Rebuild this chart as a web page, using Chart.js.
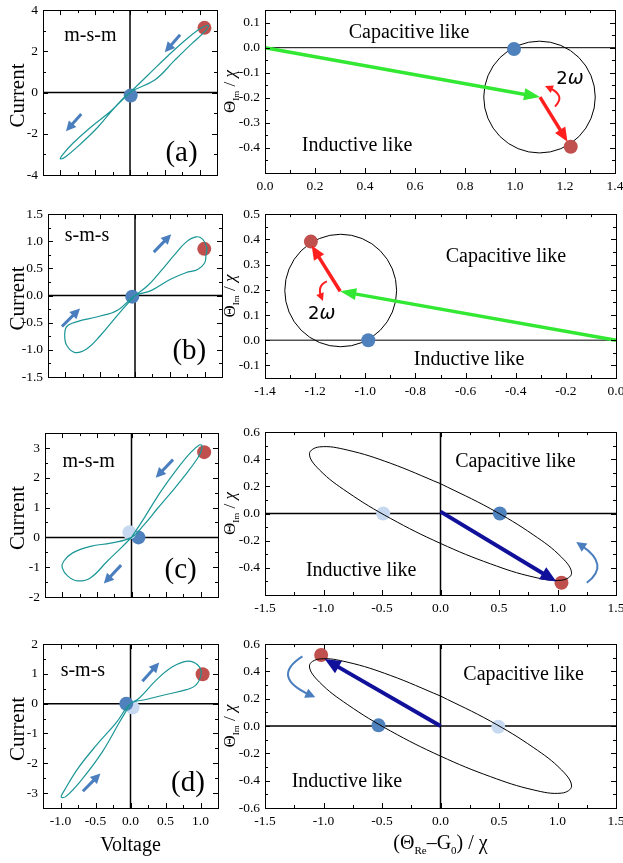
<!DOCTYPE html>
<html>
<head>
<meta charset="utf-8">
<script src="https://cdn.jsdelivr.net/npm/chart.js@4.4.0/dist/chart.umd.min.js"></script>
<style>
  html, body { margin: 0; padding: 0; background: #fff; width: 623px; height: 863px; overflow: hidden; }
  canvas { position: absolute; }
</style>
</head>
<body>
<canvas id="la"></canvas>
<canvas id="lb"></canvas>
<canvas id="lc"></canvas>
<canvas id="ld"></canvas>
<canvas id="ra"></canvas>
<canvas id="rb"></canvas>
<canvas id="rc"></canvas>
<canvas id="rd"></canvas>
<script>
// ---- data ----
// tick values
const voltTicks = [-1, -0.5, 0, 0.5, 1];
const curTicksA = [-4, -2, 0, 2, 4];
const curTicksB = [-1.5, -1, -0.5, 0, 0.5, 1, 1.5];
const curTicksC = [-2, -1, 0, 1, 2, 3];
const curTicksD = [-3, -2, -1, 0, 1, 2];
const reTicksA = [0, 0.2, 0.4, 0.6, 0.8, 1.0, 1.2, 1.4];
const imTicksA = [-0.5, -0.4, -0.3, -0.2, -0.1, 0, 0.1];
const reTicksB = [-1.4, -1.2, -1.0, -0.8, -0.6, -0.4, -0.2, 0];
const imTicksB = [-0.1, 0, 0.1, 0.2, 0.3, 0.4, 0.5];
const reTicksCD = [-1.5, -1, -0.5, 0, 0.5, 1, 1.5];
const imTicksCD = [-0.6, -0.4, -0.2, 0, 0.2, 0.4, 0.6];

// current-voltage loops (x = voltage, y = current)
const loopA = [[0,0],[0.26,0.85],[0.55,1.8],[0.84,2.67],[1.03,3.14],[1.125,3.25],[1.08,2.98],[0.88,2.35],[0.64,1.56],[0.36,0.62],[0,0],
  [-0.27,-0.88],[-0.56,-1.67],[-0.82,-2.46],[-0.97,-3.02],[-1.0,-3.22],[-0.92,-3.1],[-0.7,-2.46],[-0.46,-1.67],[-0.22,-0.73],[0,0]];
const loopB = [[0,0],[0.18,0.18],[0.37,0.45],[0.56,0.74],[0.73,0.98],[0.875,1.08],[0.97,1.04],[1.03,0.89],[1.02,0.74],[1.0,0.6],[0.9,0.48],[0.73,0.42],[0.51,0.3],[0.23,0.09],[0,0],
  [-0.25,-0.27],[-0.54,-0.39],[-0.83,-0.48],[-0.98,-0.57],[-1.01,-0.74],[-0.98,-0.92],[-0.86,-1.05],[-0.69,-0.98],[-0.5,-0.74],[-0.25,-0.36],[0,0]];
const loopC = [[0,0],[0.18,0.64],[0.42,1.53],[0.66,2.3],[0.86,2.86],[0.98,3.1],[1.02,3.08],[1.0,2.86],[0.95,2.64],[0.81,2.19],[0.62,1.64],[0.375,0.97],[0.18,0.42],[0,0],
  [-0.3,-0.19],[-0.59,-0.3],[-0.85,-0.52],[-0.98,-0.8],[-1.0,-1.02],[-0.92,-1.3],[-0.78,-1.46],[-0.59,-1.35],[-0.35,-0.8],[-0.15,-0.35],[0,0]];
const loopD = [[0,0],[0.13,0.2],[0.37,0.8],[0.6,1.24],[0.82,1.43],[0.96,1.3],[1.01,1.03],[0.94,0.64],[0.8,0.47],[0.51,0.31],[0.22,0.14],[0,0],
  [-0.2,-0.63],[-0.49,-1.4],[-0.75,-2.17],[-0.94,-2.89],[-0.99,-3.13],[-0.92,-3.11],[-0.68,-2.5],[-0.4,-1.61],[-0.16,-0.63],[0,0]];

// ellipse traced in panels (c) and (d)
const ellipseCD = [[0,0.22],[-0.429,0.371],[-0.792,0.467],[-1.035,0.491],[-1.12,0.44],[-1.035,0.322],[-0.792,0.156],[-0.429,-0.035],
  [0,-0.22],[0.429,-0.371],[0.792,-0.467],[1.035,-0.491],[1.12,-0.44],[1.035,-0.322],[0.792,-0.156],[0.429,0.035],[0,0.22]];

// circles in panels (a) and (b): centre and radius
const circleA = { c: [1.098, -0.197], r: 0.223 };
const circleB = { c: [-1.098, 0.197], r: 0.223 };

// marker positions
const redA = [[1.07, 3.14]],  blueA = [[0.01, -0.14]];
const redB = [[0.995, 0.86]], blueB = [[-0.04, -0.02]];
const redC = [[1.05, 2.86]],  blueC = [[0.1, 0]],   lightC = [[-0.03, 0.17]];
const redD = [[1.03, 0.99]],  blueD = [[-0.06, 0]], lightD = [[0.03, -0.13]];
const phRedA = [[1.223, -0.395]], phBlueA = [[0.996, -0.005]];
const phRedB = [[-1.217, 0.391]], phBlueB = [[-0.988, 0]];
const phRedC = [[1.034, -0.51]], phBlueC = [[0.507, 0]], phLightC = [[-0.49, 0]];
const phRedD = [[-1.02, 0.52]], phBlueD = [[-0.53, 0.005]], phLightD = [[0.494, -0.005]];

// arrows (start, end) in data units
const dirA = [[[0.72, 2.8], [0.5, 1.96]], [[-0.7, -1.04], [-0.92, -1.88]]];
const dirB = [[[0.27, 0.8], [0.52, 1.13]], [[-1.05, -0.57], [-0.79, -0.24]]];
const dirC = [[[0.6, 2.61], [0.35, 2.0]], [[-0.15, -0.93], [-0.4, -1.55]]];
const dirD = [[[0.17, 0.75], [0.41, 1.38]], [[-0.68, -2.94], [-0.43, -2.34]]];
const greenA = [[0, 0], [1.1, -0.197]], redVecA = [[1.1, -0.197], [1.21, -0.375]];
const greenB = [[0, 0], [-1.1, 0.194]], redVecB = [[-1.1, 0.194], [-1.214, 0.375]];
const navyC = [[0, 0.014], [0.99, -0.5]];
const navyD = [[0, 0], [-0.99, 0.49]];
// curved arrows: start, middle, end
const spinA = [[1.16, -0.235], [1.172, -0.192], [1.12, -0.153]];
const spinB = [[-1.153, 0.233], [-1.177, 0.205], [-1.169, 0.155]];
const spinC = [[1.25, -0.51], [1.33, -0.37], [1.16, -0.21]];
const spinD = [[-1.18, 0.51], [-1.29, 0.36], [-1.07, 0.21]];

// ---- drawing ----
const SERIF = '"Liberation Serif", "Times New Roman", serif';
const RED = '#c0504d', BLUE = '#4f81bd', LIGHT = '#c6d9f0', TEAL = '#1b9696', ARROW_BLUE = '#4a7ebf';
const PAD_T = 10, PAD_R = 14;

const pts = arr => arr.map(([x, y]) => ({ x, y }));
const fontOf = p => (p.italic ? 'italic ' : '') + p.size + 'px ' + (p.family || SERIF);

function drawParts(ctx, parts, x, y, rot) {
  ctx.save();
  ctx.translate(x, y);
  if (rot) ctx.rotate(-Math.PI / 2);
  let w = 0;
  parts.forEach(p => { ctx.font = fontOf(p); w += ctx.measureText(p.t).width; });
  let cx = -w / 2;
  ctx.textAlign = 'left';
  ctx.textBaseline = 'alphabetic';
  ctx.fillStyle = '#000';
  parts.forEach(p => {
    ctx.font = fontOf(p);
    ctx.fillText(p.t, cx, p.dy || 0);
    cx += ctx.measureText(p.t).width;
  });
  ctx.restore();
}

function head(ctx, tip, ux, uy, len, half, color) {
  const bx = tip[0] - ux * len, by = tip[1] - uy * len;
  ctx.fillStyle = color;
  ctx.beginPath();
  ctx.moveTo(tip[0], tip[1]);
  ctx.lineTo(bx - uy * half, by + ux * half);
  ctx.lineTo(bx + uy * half, by - ux * half);
  ctx.closePath();
  ctx.fill();
}

function minors(majors, min, max) {
  const step = majors[1] - majors[0], out = [];
  for (let v = majors[0] - step / 2; v > min + 1e-9; v -= step) out.push(v);
  for (let i = 0; i < majors.length - 1; i++) out.push((majors[i] + majors[i + 1]) / 2);
  for (let v = majors[majors.length - 1] + step / 2; v < max - 1e-9; v += step) out.push(v);
  return out;
}

const deco = {
  id: 'deco',
  beforeDatasetsDraw(chart, args, o) {
    const { ctx, chartArea: a, scales: { x, y } } = chart;
    ctx.save();
    ctx.strokeStyle = '#000';
    ctx.lineWidth = o.zeroWidth || 1.5;
    if (o.zeroX) {
      const px = x.getPixelForValue(0);
      ctx.beginPath(); ctx.moveTo(px, a.top); ctx.lineTo(px, a.bottom); ctx.stroke();
    }
    if (o.zeroY) {
      const py = y.getPixelForValue(0);
      ctx.beginPath(); ctx.moveTo(a.left, py); ctx.lineTo(a.right, py); ctx.stroke();
    }
    if (o.circle) {
      const c = o.circle;
      const cx = x.getPixelForValue(c.c[0]), cy = y.getPixelForValue(c.c[1]);
      const rx = Math.abs(x.getPixelForValue(c.c[0] + c.r) - cx);
      const ry = Math.abs(y.getPixelForValue(c.c[1] + c.r) - cy);
      ctx.lineWidth = 1;
      ctx.beginPath(); ctx.ellipse(cx, cy, rx, ry, 0, 0, Math.PI * 2); ctx.stroke();
    }
    ctx.restore();
  },
  afterDatasetsDraw(chart, args, o) {
    const { ctx, chartArea: a, scales: { x, y } } = chart;
    const P = v => [x.getPixelForValue(v[0]), y.getPixelForValue(v[1])];
    ctx.save();

    // straight arrows
    (o.arrows || []).forEach(ar => {
      const p0 = P(ar.seg[0]), p1 = P(ar.seg[1]);
      const dx = p1[0] - p0[0], dy = p1[1] - p0[1], L = Math.hypot(dx, dy);
      const ux = dx / L, uy = dy / L;
      ctx.strokeStyle = ar.color; ctx.lineWidth = ar.width; ctx.lineCap = 'butt';
      ctx.beginPath(); ctx.moveTo(p0[0], p0[1]);
      ctx.lineTo(p1[0] - ux * (ar.head - 1), p1[1] - uy * (ar.head - 1)); ctx.stroke();
      head(ctx, p1, ux, uy, ar.head, ar.half, ar.color);
    });

    // curved arrows through three points
    (o.curves || []).forEach(cv => {
      const s = P(cv.pts[0]), m = P(cv.pts[1]), e = P(cv.pts[2]);
      const c = [2 * m[0] - (s[0] + e[0]) / 2, 2 * m[1] - (s[1] + e[1]) / 2];
      const dx = e[0] - c[0], dy = e[1] - c[1], L = Math.hypot(dx, dy);
      const ux = dx / L, uy = dy / L;
      ctx.strokeStyle = cv.color; ctx.lineWidth = cv.width;
      ctx.beginPath(); ctx.moveTo(s[0], s[1]);
      ctx.quadraticCurveTo(c[0], c[1], e[0] - ux * cv.head * 0.6, e[1] - uy * cv.head * 0.6);
      ctx.stroke();
      head(ctx, e, ux, uy, cv.head, cv.half, cv.color);
    });

    // frame
    ctx.strokeStyle = '#000'; ctx.lineWidth = 1;
    ctx.strokeRect(Math.round(a.left) + 0.5, Math.round(a.top) + 0.5, Math.round(a.right - a.left), Math.round(a.bottom - a.top));

    // inward ticks on all four sides
    const xMaj = x.ticks.map(t => t.value), yMaj = y.ticks.map(t => t.value);
    const tickX = (vals, len) => vals.forEach(v => {
      const px = Math.round(x.getPixelForValue(v)) + 0.5;
      ctx.beginPath();
      ctx.moveTo(px, a.bottom); ctx.lineTo(px, a.bottom - len);
      ctx.moveTo(px, a.top); ctx.lineTo(px, a.top + len);
      ctx.stroke();
    });
    const tickY = (vals, len) => vals.forEach(v => {
      const py = Math.round(y.getPixelForValue(v)) + 0.5;
      ctx.beginPath();
      ctx.moveTo(a.left, py); ctx.lineTo(a.left + len, py);
      ctx.moveTo(a.right, py); ctx.lineTo(a.right - len, py);
      ctx.stroke();
    });
    tickX(xMaj, 5); tickX(minors(xMaj, x.min, x.max), 3);
    tickY(yMaj, 5); tickY(minors(yMaj, y.min, y.max), 3);

    // texts at data positions
    (o.texts || []).forEach(t => {
      const p = P(t.at);
      drawParts(ctx, t.parts, p[0], p[1], false);
    });

    // axis titles, positioned in page pixels
    const cl = chart.canvas.offsetLeft, ct = chart.canvas.offsetTop;
    if (o.yTitle) drawParts(ctx, o.yTitle.parts, o.yTitle.px - cl, (a.top + a.bottom) / 2 + (o.yTitle.dy || 0), true);
    if (o.xTitle) drawParts(ctx, o.xTitle.parts, (a.left + a.right) / 2, o.xTitle.py - ct, false);
    ctx.restore();
  }
};

function fmt(v, d) {
  if (Math.abs(v) < 1e-9) v = 0;
  return v.toFixed(d);
}

function panel(id, box, o) {
  const cv = document.getElementById(id);
  const left = o.canvasLeft;
  cv.style.left = left + 'px';
  cv.style.top = (box.T - PAD_T) + 'px';
  cv.width = box.R - left + PAD_R;
  cv.height = box.B - box.T + PAD_T + o.xH;
  const yW = box.L - left;
  const tickFont = { family: SERIF, size: 13.5 };
  new Chart(cv, {
    type: 'scatter',
    data: { datasets: o.datasets },
    options: {
      responsive: false,
      animation: false,
      events: [],
      layout: { padding: { top: PAD_T, right: PAD_R, left: 0, bottom: 0 } },
      plugins: { legend: { display: false }, tooltip: { enabled: false }, deco: o.deco },
      scales: {
        x: {
          type: 'linear', min: o.xr[0], max: o.xr[1],
          grid: { display: false, drawTicks: false }, border: { display: false },
          afterBuildTicks: s => { s.ticks = o.xt.map(v => ({ value: v })); },
          ticks: {
            autoSkip: false, maxRotation: 0, padding: 5, color: '#000', font: tickFont,
            callback: v => o.xLabels ? fmt(v, o.xd) : ''
          },
          afterFit: s => { s.height = o.xH; }
        },
        y: {
          type: 'linear', min: o.yr[0], max: o.yr[1],
          grid: { display: false, drawTicks: false }, border: { display: false },
          afterBuildTicks: s => { s.ticks = o.yt.map(v => ({ value: v })); },
          ticks: {
            autoSkip: false, padding: 5, color: '#000', font: tickFont,
            callback: v => (o.yHide || []).some(h => Math.abs(h - v) < 1e-9) ? '' : fmt(v, o.yd)
          },
          afterFit: s => { s.width = yW; }
        }
      }
    },
    plugins: [deco]
  });
}

const loopSet = arr => ({ data: pts(arr), showLine: true, borderColor: TEAL, borderWidth: 1.2, pointRadius: 0, tension: 0.4, fill: false });
const dotSet = (arr, col) => ({ data: pts(arr), showLine: false, pointRadius: 7, pointHoverRadius: 7, backgroundColor: col, borderWidth: 0 });
const ellSet = arr => ({ data: pts(arr), showLine: true, borderColor: '#000', borderWidth: 1, pointRadius: 0, tension: 0.4, fill: false });
const dirArrows = list => list.map(seg => ({ seg, color: ARROW_BLUE, width: 3, head: 10, half: 5 }));
const txt = (at, s, size) => ({ at, parts: [{ t: s, size }] });

const curTitle = { px: 24, dy: 3, parts: [{ t: 'Current', size: 21 }] };
const imTitle = { px: 235, parts: [{ t: 'Θ', size: 17 }, { t: 'Im', size: 9, dy: 4 }, { t: ' / ', size: 17 }, { t: 'χ', size: 17, italic: true }] };

// ---- left column: current vs voltage ----
panel('la', { L: 43, T: 7, R: 217, B: 175 }, {
  canvasLeft: 0, xH: 20, xr: [-1.25, 1.25], xt: voltTicks, xd: 1, xLabels: false,
  yr: [-4, 4], yt: curTicksA, yd: 0,
  datasets: [loopSet(loopA), dotSet(blueA, BLUE), dotSet(redA, RED)],
  deco: { zeroX: true, zeroY: true, arrows: dirArrows(dirA), yTitle: curTitle,
    texts: [txt([-0.57, 2.51], 'm-s-m', 20), txt([0.74, -3.33], '(a)', 29)] }
});
panel('lb', { L: 48, T: 211, R: 222, B: 377 }, {
  canvasLeft: 0, xH: 20, xr: [-1.25, 1.25], xt: voltTicks, xd: 1, xLabels: false,
  yr: [-1.5, 1.5], yt: curTicksB, yd: 1,
  datasets: [loopSet(loopB), dotSet(blueB, BLUE), dotSet(redB, RED)],
  deco: { zeroX: true, zeroY: true, arrows: dirArrows(dirB), yTitle: curTitle,
    texts: [txt([-0.69, 1.01], 's-m-s', 20), txt([0.78, -1.16], '(b)', 29)] }
});
panel('lc', { L: 45, T: 430, R: 218, B: 597 }, {
  canvasLeft: 0, xH: 20, xr: [-1.25, 1.25], xt: voltTicks, xd: 1, xLabels: false,
  yr: [-2, 3.5], yt: curTicksC, yd: 0,
  datasets: [loopSet(loopC), dotSet(lightC, LIGHT), dotSet(blueC, BLUE), dotSet(redC, RED)],
  deco: { zeroX: true, zeroY: true, arrows: dirArrows(dirC), yTitle: curTitle,
    texts: [txt([-0.62, 2.36], 'm-s-m', 20), txt([0.71, -1.35], '(c)', 29)] }
});
panel('ld', { L: 43, T: 641, R: 218, B: 808 }, {
  canvasLeft: 0, xH: 60, xr: [-1.25, 1.25], xt: voltTicks, xd: 1, xLabels: true,
  yr: [-3.5, 2], yt: curTicksD, yd: 0,
  datasets: [loopSet(loopD), dotSet(blueD, BLUE), dotSet(lightD, LIGHT), dotSet(redD, RED)],
  deco: { zeroX: true, zeroY: true, arrows: dirArrows(dirD), yTitle: curTitle,
    xTitle: { py: 851, parts: [{ t: 'Voltage', size: 20 }] },
    texts: [txt([-0.68, 0.92], 's-m-s', 20), txt([0.82, -2.94], '(d)', 29)] }
});

// ---- right column: phasor plane ----
const w2 = at => ({ at, parts: [{ t: '2', size: 18, family: '"DejaVu Sans", sans-serif' }, { t: 'ω', size: 19, italic: true, family: '"DejaVu Sans", sans-serif' }] });

panel('ra', { L: 265, T: 7, R: 615, B: 173 }, {
  canvasLeft: 218, xH: 20, xr: [0, 1.4], xt: reTicksA, xd: 1, xLabels: true,
  yr: [-0.5, 0.15], yt: imTicksA, yd: 1, yHide: [-0.5],
  datasets: [dotSet(phBlueA, BLUE), dotSet(phRedA, RED)],
  deco: { zeroY: true, zeroWidth: 1, circle: circleA, yTitle: imTitle,
    arrows: [{ seg: greenA, color: '#33e833', width: 3.5, head: 16, half: 6 }, { seg: redVecA, color: '#ff1f1f', width: 3.5, head: 14, half: 6 }],
    curves: [{ pts: spinA, color: '#ff1f1f', width: 2, head: 8, half: 4 }],
    texts: [txt([0.576, 0.039], 'Capacitive like', 20), txt([0.368, -0.414], 'Inductive like', 20), w2([1.22, -0.144])] }
});
panel('rb', { L: 265, T: 211, R: 616, B: 378 }, {
  canvasLeft: 218, xH: 20, xr: [-1.4, 0], xt: reTicksB, xd: 1, xLabels: true,
  yr: [-0.15, 0.5], yt: imTicksB, yd: 1,
  datasets: [dotSet(phBlueB, BLUE), dotSet(phRedB, RED)],
  deco: { zeroY: true, zeroWidth: 1, circle: circleB, yTitle: imTitle,
    arrows: [{ seg: greenB, color: '#33e833', width: 3.5, head: 16, half: 6 }, { seg: redVecB, color: '#ff1f1f', width: 3.5, head: 14, half: 6 }],
    curves: [{ pts: spinB, color: '#ff1f1f', width: 2, head: 8, half: 4 }],
    texts: [txt([-0.439, 0.31], 'Capacitive like', 20), txt([-0.586, -0.097], 'Inductive like', 20), w2([-1.174, 0.084])] }
});
panel('rc', { L: 265, T: 429, R: 616, B: 595 }, {
  canvasLeft: 218, xH: 20, xr: [-1.5, 1.5], xt: reTicksCD, xd: 1, xLabels: true,
  yr: [-0.6, 0.6], yt: imTicksCD, yd: 1, yHide: [-0.6],
  datasets: [ellSet(ellipseCD), dotSet(phLightC, LIGHT), dotSet(phBlueC, BLUE), dotSet(phRedC, RED)],
  deco: { zeroX: true, zeroY: true, yTitle: imTitle,
    arrows: [{ seg: navyC, color: '#10109a', width: 4, head: 16, half: 7 }],
    curves: [{ pts: spinC, color: ARROW_BLUE, width: 2, head: 10, half: 5 }],
    texts: [txt([0.64, 0.343], 'Capacitive like', 20), txt([-0.678, -0.457], 'Inductive like', 20)] }
});
panel('rd', { L: 265, T: 641, R: 616, B: 808 }, {
  canvasLeft: 218, xH: 60, xr: [-1.5, 1.5], xt: reTicksCD, xd: 1, xLabels: true,
  yr: [-0.6, 0.6], yt: imTicksCD, yd: 1,
  datasets: [ellSet(ellipseCD), dotSet(phBlueD, BLUE), dotSet(phLightD, LIGHT), dotSet(phRedD, RED)],
  deco: { zeroX: true, zeroY: true, yTitle: imTitle,
    xTitle: { py: 849, parts: [{ t: '(Θ', size: 20 }, { t: 'Re', size: 11, dy: 5 }, { t: '–G', size: 20 }, { t: '0', size: 11, dy: 5 }, { t: ') / χ', size: 20 }] },
    arrows: [{ seg: navyD, color: '#10109a', width: 4, head: 16, half: 7 }],
    curves: [{ pts: spinD, color: ARROW_BLUE, width: 2, head: 10, half: 5 }],
    texts: [txt([0.71, 0.338], 'Capacitive like', 20), txt([-0.80, -0.448], 'Inductive like', 20)] }
});
</script>
</body>
</html>
